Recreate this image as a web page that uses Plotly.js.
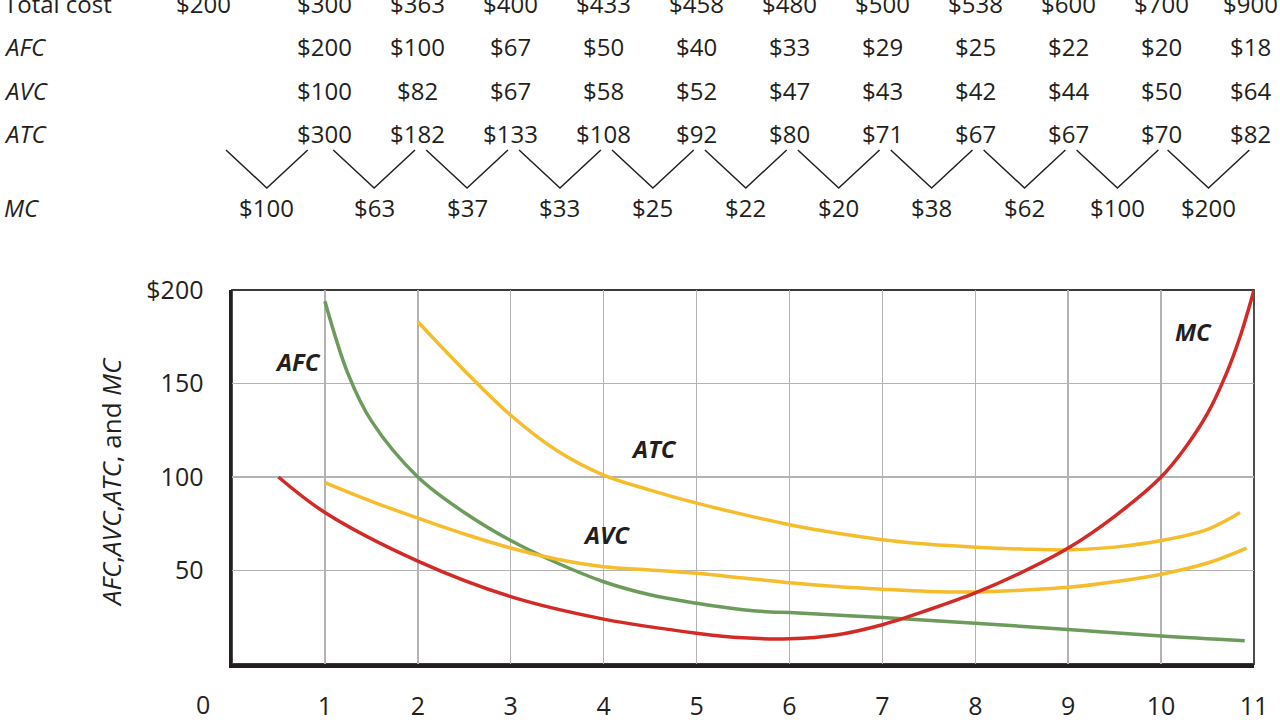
<!DOCTYPE html>
<html>
<head>
<meta charset="utf-8">
<script src="https://cdn.plot.ly/plotly-3.0.1.min.js"></script>
<style>
  html, body { margin: 0; padding: 0; background: #fff; }
  #chart { width: 1280px; height: 720px; }
</style>
</head>
<body>
<div id="chart"></div>
<script>
// table above the chart
const quantity = [0, 1, 2, 3, 4, 5, 6, 7, 8, 9, 10, 11];
const totalCost = [200, 300, 363, 400, 433, 458, 480, 500, 538, 600, 700, 900];
const afcTable = [null, 200, 100, 67, 50, 40, 33, 29, 25, 22, 20, 18];
const avcTable = [null, 100, 82, 67, 58, 52, 47, 43, 42, 44, 50, 64];
const atcTable = [null, 300, 182, 133, 108, 92, 80, 71, 67, 67, 70, 82];
const mcTable = [100, 63, 37, 33, 25, 22, 20, 38, 62, 100, 200];

// curves as drawn in the graph
const afcX = [1, 1.25, 1.5, 2, 2.5, 3, 3.5, 4, 4.5, 5, 5.5, 5.8, 6, 7, 8, 9, 10, 10.9];
const afcY = [194, 155, 130, 100, 81, 66, 54, 44, 37, 32.5, 29, 27.8, 27.5, 24.8, 21.8, 18.5, 15, 12.5];

const atcX = [2, 2.5, 3, 3.5, 4, 4.5, 5, 5.5, 6, 6.5, 7, 7.5, 8, 8.5, 9, 9.5, 10, 10.5, 10.85];
const atcY = [183, 157, 133, 114, 101, 93, 86, 80, 74.5, 70, 66.5, 64, 62.5, 61.5, 61, 62.5, 66, 72, 81];

const avcX = [1, 1.5, 2, 2.5, 3, 3.5, 4, 4.5, 5, 5.5, 6, 6.5, 7, 7.5, 8, 8.5, 9, 9.5, 10, 10.5, 10.92];
const avcY = [97, 87, 78, 69.5, 62, 56, 52, 50.3, 48.5, 46, 43.5, 41.5, 40, 38.8, 38.5, 39.5, 41, 44, 48, 54, 62];

const mcX = [0.5, 1, 2, 3, 4, 5, 5.5, 6, 6.5, 7, 7.5, 8, 8.5, 9, 9.5, 10, 10.25, 10.5, 10.7, 10.85, 11];
const mcY = [100, 81, 55, 36, 24, 16.5, 14, 13.5, 15.5, 21, 29, 38, 49, 62, 79, 100, 115, 134, 155, 175, 200];

const xTicks = [1, 2, 3, 4, 5, 6, 7, 8, 9, 10, 11];
const yTicks = [50, 100, 150, 200];
const yTickText = ['50', '100', '150', '$200'];

const curveLabels = [
    { x: 0.71, y: 162, text: 'AFC' },
    { x: 4.54, y: 115, text: 'ATC' },
    { x: 4.03, y: 69, text: 'AVC' },
    { x: 10.35, y: 178, text: 'MC' }
];

const FONT = 'Open Sans, Noto Sans, sans-serif';
const INK = '#231f20';
const RED = '#d22b27';
const GREEN = '#6c9b5c';
const GOLD = '#f5bc2c';
const X_MAX = 11;

// q = 0 column sits left of the axis, like the "0" tick; last column pulled in a little
const colX = quantity.map(q => q === 0 ? -0.31 : (q === X_MAX ? q - 0.04 : q));

function curve(x, y, color) {
    return {
        x: x,
        y: y,
        type: 'scatter',
        mode: 'lines',
        line: { color: color, width: 3.5, shape: 'spline', smoothing: 1 },
        hoverinfo: 'skip',
        showlegend: false
    };
}

const data = [
    curve(afcX, afcY, GREEN),
    curve(avcX, avcY, GOLD),
    curve(atcX, atcY, GOLD),
    curve(mcX, mcY, RED)
];

// plot area in pixels
const plotTop = 290, plotBottom = 664;
const plotH = plotBottom - plotTop;
const pxToPaperY = py => (plotBottom - py) / plotH;
const plotLeft = 232, plotW = 1254 - 232;
const pxToPaperX = px => (px - plotLeft) / plotW;
const qToPaper = q => q / X_MAX;

const annotations = [];
const tableFont = { family: FONT, size: 24, color: INK };

function addRow(label, values, py, italic) {
    annotations.push({
        xref: 'paper', yref: 'paper',
        x: pxToPaperX(2), y: pxToPaperY(py),
        xanchor: 'left', yanchor: 'middle',
        text: italic ? '<i>' + label + '</i>' : label,
        showarrow: false, font: tableFont
    });
    values.forEach((v, i) => {
        if (v === null) return;
        annotations.push({
            xref: 'paper', yref: 'paper',
            x: qToPaper(colX[i]), y: pxToPaperY(py),
            xanchor: 'center', yanchor: 'middle',
            text: '$' + v,
            showarrow: false, font: tableFont
        });
    });
}

addRow('Total cost', totalCost, 3, false);
addRow('AFC', afcTable, 46, true);
addRow('AVC', avcTable, 90, true);
addRow('ATC', atcTable, 133, true);

// MC row sits between the columns
annotations.push({
    xref: 'paper', yref: 'paper',
    x: pxToPaperX(2), y: pxToPaperY(207),
    xanchor: 'left', yanchor: 'middle',
    text: '<i>MC</i>', showarrow: false, font: tableFont
});
const shapes = [];
mcTable.forEach((v, i) => {
    const mid = (colX[i] + colX[i + 1]) / 2 + 0.03;
    annotations.push({
        xref: 'paper', yref: 'paper',
        x: qToPaper(mid), y: pxToPaperY(207),
        xanchor: 'center', yanchor: 'middle',
        text: '$' + v, showarrow: false, font: tableFont
    });
    // V connector from the two neighbouring cells down to the MC value
    const top = pxToPaperY(150), bot = pxToPaperY(188);
    const l = qToPaper(mid - 0.44), c = qToPaper(mid), r = qToPaper(mid + 0.44);
    shapes.push({
        type: 'path', xref: 'paper', yref: 'paper',
        path: 'M ' + l + ',' + top + ' L ' + c + ',' + bot + ' L ' + r + ',' + top,
        line: { color: INK, width: 1.5 }
    });
});

// curve names
curveLabels.forEach(l => {
    annotations.push({
        x: l.x, y: l.y, xref: 'x', yref: 'y',
        text: '<b><i>' + l.text + '</i></b>',
        showarrow: false,
        font: { family: FONT, size: 24, color: INK }
    });
});

// "0" at the origin corner
annotations.push({
    xref: 'paper', yref: 'paper',
    x: qToPaper(-0.31), y: pxToPaperY(704),
    xanchor: 'center', yanchor: 'middle',
    text: '0', showarrow: false, font: { family: FONT, size: 25, color: INK }
});

// y axis title
annotations.push({
    xref: 'paper', yref: 'paper',
    x: pxToPaperX(111), y: pxToPaperY(482),
    xanchor: 'center', yanchor: 'middle',
    textangle: -90,
    text: '<i>AFC</i>,<i>AVC</i>,<i>ATC</i>, and <i>MC</i>',
    showarrow: false, font: { family: FONT, size: 26, color: INK }
});

// top and right frame
shapes.push({
    type: 'rect', xref: 'paper', yref: 'paper',
    x0: 0, x1: 1, y0: 0, y1: 1,
    line: { color: '#3a3a3a', width: 1.8 },
    layer: 'below'
});

const layout = {
    width: 1280,
    height: 720,
    margin: { l: plotLeft, r: 1280 - 1254, t: plotTop, b: 720 - plotBottom },
    paper_bgcolor: '#ffffff',
    plot_bgcolor: '#ffffff',
    font: { family: FONT, color: INK },
    showlegend: false,
    xaxis: {
        range: [0, X_MAX],
        tickvals: xTicks,
        ticktext: xTicks.map(String),
        ticks: 'outside',
        ticklen: 17,
        tickcolor: 'rgba(0,0,0,0)',
        tickfont: { family: FONT, size: 25, color: INK },
        showgrid: true,
        gridcolor: '#b3b3b3',
        gridwidth: 1.5,
        zeroline: false,
        showline: true,
        linecolor: INK,
        linewidth: 3.5,
        fixedrange: true
    },
    yaxis: {
        range: [0, 200],
        tickvals: yTicks,
        ticktext: yTickText,
        ticks: 'outside',
        ticklen: 20,
        tickcolor: 'rgba(0,0,0,0)',
        tickfont: { family: FONT, size: 25, color: INK },
        showgrid: true,
        gridcolor: '#b3b3b3',
        gridwidth: 1.5,
        zeroline: false,
        showline: true,
        linecolor: INK,
        linewidth: 3.5,
        fixedrange: true
    },
    shapes: shapes,
    annotations: annotations
};

Plotly.newPlot('chart', data, layout, { displayModeBar: false, staticPlot: true });
</script>
</body>
</html>
